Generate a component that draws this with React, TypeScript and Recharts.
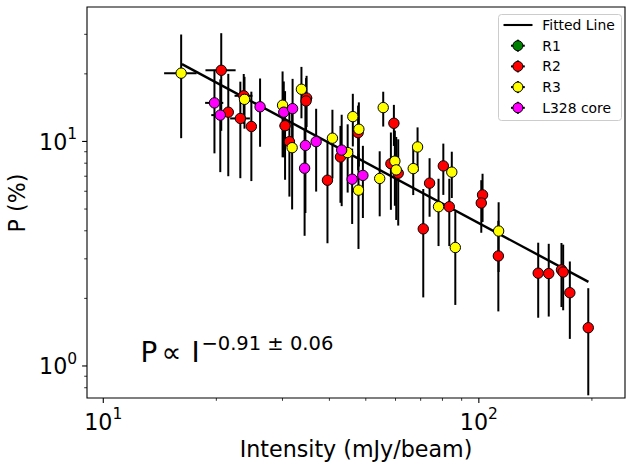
import { ErrorBar, ReferenceArea, Scatter, ScatterChart, XAxis, YAxis } from "recharts";

const FONT = "DejaVu Sans, sans-serif";

// axis ranges and ticks (log-log)
const xDomain = [9.05, 245];
const yDomain = [0.72, 39.7];
const xMajorTicks = [10, 100];
const xTickExponents = ["1", "2"];
const xMinorTicks = [20, 30, 40, 50, 60, 70, 80, 90, 200];
const yMajorTicks = [1, 10];
const yTickExponents = ["0", "1"];
const yMinorTicks = [0.8, 0.9, 2, 3, 4, 5, 6, 7, 8, 9, 20, 30];

// fitted power law, end points
const fitIntensity = [16.2, 195.8];
const fitPol = [22.1, 2.37];

// [intensity, P, dI, dP]
const r1: number[][] = [];

const r2 = [
  [20.61, 20.75, 1.9, 9.6],
  [21.52, 13.5, 0, 6.5],
  [23.66, 15.97, 1.3, 4],
  [23.17, 12.66, 1.4, 5.8],
  [24.79, 11.66, 0, 5],
  [30.48, 11.75, 1, 5],
  [34.78, 15.6, 1.2, 4],
  [34.67, 15.15, 0, 4],
  [31.3, 9.98, 1, 4.3],
  [42.81, 8.53, 0, 3.2],
  [39.53, 6.72, 0, 3.2],
  [47.7, 10.94, 1.5, 3.5],
  [59.4, 12.05, 0, 2.5],
  [58.32, 7.96, 0, 3],
  [61.0, 7.22, 0, 3],
  [73.93, 6.52, 0, 1.9],
  [80.43, 7.78, 0, 2],
  [83.43, 5.12, 0, 1.7],
  [71.12, 4.08, 0, 2.06],
  [102.3, 5.78, 0, 1.4],
  [101.5, 5.32, 0, 1.4],
  [112.7, 3.09, 0, 1.34],
  [143.9, 2.59, 0, 0.95],
  [153.5, 2.58, 0, 0.92],
  [165.96, 2.68, 0, 0.85],
  [167.7, 2.62, 0, 0.85],
  [174.7, 2.12, 0, 0.8],
  [195.6, 1.48, 0, 0.74],
];

const r3 = [
  [16.12, 20.14, 1.6, 9.8],
  [23.77, 15.4, 0, 4],
  [30.02, 14.5, 1, 6],
  [33.7, 17.08, 0, 4.4],
  [31.83, 9.38, 0, 4.4],
  [40.75, 10.34, 0, 3.5],
  [44.74, 8.92, 0, 3],
  [46.18, 12.9, 0, 3.4],
  [47.92, 11.33, 0, 3.6],
  [47.81, 6.07, 0, 2.75],
  [55.64, 14.15, 0, 2.5],
  [59.76, 8.17, 0, 3],
  [60.26, 7.47, 0, 3],
  [54.45, 6.84, 0, 2.2],
  [68.68, 9.45, 0, 2.1],
  [66.88, 7.57, 0, 1.8],
  [84.72, 7.3, 0, 1.7],
  [78.1, 5.12, 0, 1.7],
  [86.56, 3.37, 0, 1.5],
  [112.9, 3.99, 0, 1.37],
];

const l328 = [
  [19.77, 14.85, 1.1, 6],
  [20.49, 13.1, 1.1, 5.8],
  [26.15, 14.27, 0, 4.8],
  [30.24, 13.5, 0, 5],
  [31.92, 14.0, 0, 5],
  [34.53, 9.6, 1, 4.8],
  [34.36, 7.6, 0, 3.8],
  [36.88, 9.98, 0, 4],
  [43.13, 9.15, 0, 4],
  [45.99, 6.79, 0, 2.5],
  [49.12, 7.06, 0, 2.5],
];

const legendItems = [
  { name: "R1", color: "#008000" },
  { name: "R2", color: "#ff0000" },
  { name: "R3", color: "#ffff00" },
  { name: "L328 core", color: "#ff00ff" },
];

const toRows = (pts: number[][]) => pts.map(([x, y, ex, ey]) => ({ x, y, ex, ey }));
const fitRows = fitIntensity.map((x, i) => ({ x, y: fitPol[i] }));

const dot = (fill: string) => (props: any) => (
  <circle cx={props.cx} cy={props.cy} r={5.2} fill={fill} stroke="#000" strokeWidth={1} />
);

function XTick({ x, y, payload }: any) {
  const i = xMajorTicks.indexOf(payload.value);
  const major = i >= 0;
  return (
    <g>
      <line x1={x} x2={x} y1={y} y2={y + (major ? 4.9 : 2.8)} stroke="#000" strokeWidth={major ? 1.1 : 0.8} />
      {major && (
        <text x={x} y={y + 32} textAnchor="middle" fontSize={22.2} fontFamily={FONT} fill="#000">
          10<tspan dy={-10.7} fontSize={15.5}>{xTickExponents[i]}</tspan>
        </text>
      )}
    </g>
  );
}

function YTick({ x, y, payload }: any) {
  const i = yMajorTicks.indexOf(payload.value);
  const major = i >= 0;
  return (
    <g>
      <line x1={x} x2={x - (major ? 4.9 : 2.8)} y1={y} y2={y} stroke="#000" strokeWidth={major ? 1.1 : 0.8} />
      {major && (
        <text x={x - 9.8} y={y + 8.5} textAnchor="end" fontSize={22.2} fontFamily={FONT} fill="#000">
          10<tspan dy={-10.7} fontSize={15.5}>{yTickExponents[i]}</tspan>
        </text>
      )}
    </g>
  );
}

function series(name: string, pts: number[][], color: string) {
  return (
    <Scatter key={name} name={name} data={toRows(pts)} shape={dot(color)} isAnimationActive={false}>
      <ErrorBar dataKey="ex" direction="x" width={0} stroke="#000" strokeWidth={2} isAnimationActive={false} />
      <ErrorBar dataKey="ey" direction="y" width={0} stroke="#000" strokeWidth={2} isAnimationActive={false} />
    </Scatter>
  );
}

export default function App() {
  const rowY = [25, 45.7, 66.4, 87.1, 107.8];
  return (
    <div style={{ position: "fixed", left: 0, top: 0, width: 626, height: 464, background: "#fff" }}>
      <ScatterChart width={626} height={464} margin={{ top: 7, right: 1, bottom: 0, left: 0 }}>
        <XAxis
          type="number"
          dataKey="x"
          scale="log"
          domain={xDomain}
          allowDataOverflow
          ticks={[...xMajorTicks, ...xMinorTicks]}
          interval={0}
          tick={(p: any) => <XTick {...p} />}
          tickLine={false}
          axisLine={false}
          tickSize={0}
          tickMargin={0}
          height={66}
        />
        <YAxis
          type="number"
          dataKey="y"
          scale="log"
          domain={yDomain}
          allowDataOverflow
          ticks={[...yMajorTicks, ...yMinorTicks]}
          interval={0}
          tick={(p: any) => <YTick {...p} />}
          tickLine={false}
          axisLine={false}
          tickSize={0}
          tickMargin={0}
          width={87}
        />
        <Scatter
          name="Fitted Line"
          data={fitRows}
          line={{ stroke: "#000", strokeWidth: 2.4 }}
          lineType="joint"
          shape={() => <g />}
          isAnimationActive={false}
        />
        <Scatter name="R1" data={toRows(r1)} shape={dot("#008000")} isAnimationActive={false} />
        {series("R2", r2, "#ff0000")}
        {series("R3", r3, "#ffff00")}
        {series("L328 core", l328, "#ff00ff")}
        <ReferenceArea
          x1={xDomain[0]}
          x2={xDomain[1]}
          y1={yDomain[0]}
          y2={yDomain[1]}
          fill="none"
          stroke="#000"
          strokeWidth={1.1}
          ifOverflow="visible"
        />
      </ScatterChart>

      <svg
        width={626}
        height={464}
        style={{ position: "absolute", left: 0, top: 0, pointerEvents: "none" }}
        fontFamily={FONT}
      >
        <text x={25.4} y={203} transform="rotate(-90 25.4 203)" textAnchor="middle" fontSize={22.2} fill="#000">
          P (%)
        </text>
        <text x={356} y={457} textAnchor="middle" fontSize={22.2} fill="#000">
          Intensity (mJy/beam)
        </text>
        <text y={362} fontSize={27.8} fill="#000">
          <tspan x={140.5}>P</tspan>
          <tspan x={161.6}>∝</tspan>
          <tspan x={191.6}>I</tspan>
          <tspan x={201.4} dy={-12} fontSize={19.5}>
            −0.91 ± 0.06
          </tspan>
        </text>

        <rect x={498.5} y={14.5} width={123} height={106} rx={3} fill="#fff" fillOpacity={0.8} stroke="#cccccc" />
        <line x1={503.5} x2={532.5} y1={rowY[0]} y2={rowY[0]} stroke="#000" strokeWidth={2.1} />
        <text x={542.3} y={rowY[0] + 5} fontSize={13.9} fill="#000">
          Fitted Line
        </text>
        {legendItems.map((item, i) => {
          const cy = rowY[i + 1];
          return (
            <g key={item.name}>
              <line x1={511} x2={524.8} y1={cy} y2={cy} stroke="#000" strokeWidth={2} />
              <line x1={517.9} x2={517.9} y1={cy - 6} y2={cy + 6} stroke="#000" strokeWidth={2} />
              <circle cx={517.9} cy={cy} r={5} fill={item.color} stroke="#000" strokeWidth={1} />
              <text x={542.3} y={cy + 5} fontSize={13.9} fill="#000">
                {item.name}
              </text>
            </g>
          );
        })}
      </svg>
    </div>
  );
}
